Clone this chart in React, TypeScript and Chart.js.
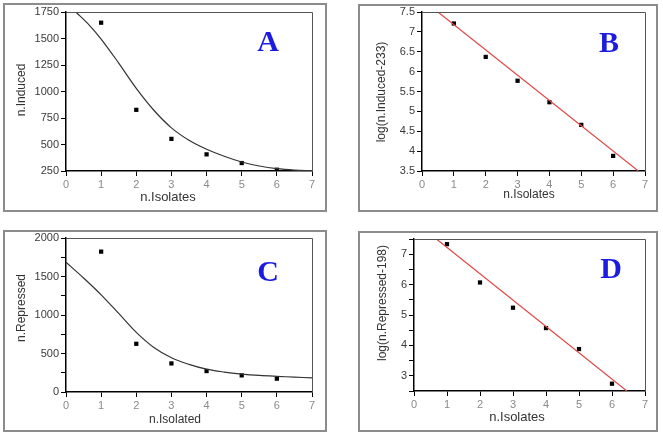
import React, { useEffect, useRef } from "react";
import { Chart, registerables } from "chart.js";

Chart.register(...registerables);

const PAGE_W = 663;
const PAGE_H = 437;
const SANS = '"Liberation Sans", Arial, sans-serif';

// ---------- data ----------
const isolates = [1, 2, 3, 4, 5, 6];
const xTicks = [0, 1, 2, 3, 4, 5, 6, 7];

// Panel A
const inducedCounts = [1649, 827, 553, 407, 325, 262];
const inducedFitX = [0.28, 0.66, 1, 1.5, 2, 2.5, 3, 3.5, 4, 4.5, 5, 5.5, 6, 6.5, 7];
const inducedFitY = [1750, 1627, 1495, 1268, 1030, 823, 657, 540, 455, 389, 335, 297, 272, 259, 253];

// Panel B
const logInduced = [7.21, 6.37, 5.77, 5.23, 4.66, 3.88];
const logInducedLineX = [0.5, 6.79];
const logInducedLineY = [7.5, 3.5];

// Panel C
const repressedCounts = [1823, 626, 371, 272, 216, 173];
const repressedFitX = [0, 0.5, 1, 1.5, 2, 2.5, 3, 3.5, 4, 4.5, 5, 5.5, 6, 6.5, 7];
const repressedFitY = [1685, 1480, 1262, 1020, 774, 578, 445, 359, 296, 259, 233, 215, 203, 193, 183];

// Panel D
const logRepressed = [7.33, 6.07, 5.24, 4.57, 3.88, 2.74];
const logRepressedLineX = [0.68, 6.45];
const logRepressedLineY = [7.5, 2.5];

// ---------- helpers ----------
const toXY = (xs: number[], ys: number[]) => xs.map((x, i) => ({ x, y: ys[i] }));

const frameAndText = {
  id: "frameAndText",
  afterDraw(chart: any, _args: any, o: any) {
    const ctx = chart.ctx;
    const ca = chart.chartArea;
    ctx.save();
    ctx.strokeStyle = "#555";
    ctx.lineWidth = 1;
    ctx.beginPath();
    ctx.moveTo(ca.left, ca.top + 0.5);
    ctx.lineTo(ca.right + 0.5, ca.top + 0.5);
    ctx.lineTo(ca.right + 0.5, ca.bottom);
    ctx.stroke();

    ctx.textAlign = "center";
    ctx.textBaseline = "middle";
    ctx.fillStyle = "#1c1ce0";
    ctx.font = 'bold 30px "Liberation Serif", "Times New Roman", serif';
    ctx.fillText(o.letter, o.letterX, o.letterY);

    ctx.fillStyle = "#333";
    ctx.font = `${o.xTitleSize}px ${SANS}`;
    ctx.fillText(o.xTitle, o.xTitleX, o.xTitleY);

    ctx.translate(o.yTitleX, o.yTitleY);
    ctx.rotate(-Math.PI / 2);
    ctx.font = `${o.yTitleSize}px ${SANS}`;
    ctx.fillText(o.yTitle, 0, 0);
    ctx.restore();
  },
};

type Spec = {
  area: [number, number, number, number]; // left, top, right, bottom
  yMin: number;
  yMax: number;
  yStep: number;
  yLabel: (v: number) => string;
  yTickSize: number;
  points: { x: number; y: number }[];
  line: { x: number; y: number }[];
  lineColor: string;
  lineTension: number;
  text: any;
};

function makeConfig(s: Spec): any {
  const Y_W = 40;
  const X_H = 30;
  const [L, T, R, B] = s.area;
  return {
    type: "scatter",
    data: {
      datasets: [
        {
          data: s.line,
          showLine: true,
          borderColor: s.lineColor,
          borderWidth: 1.2,
          pointRadius: 0,
          tension: s.lineTension,
          fill: false,
        },
        {
          data: s.points,
          showLine: false,
          pointStyle: "rect",
          pointRadius: 3,
          pointBorderWidth: 0,
          pointBackgroundColor: "#000",
          backgroundColor: "#000",
        },
      ],
    },
    options: {
      animation: false,
      responsive: false,
      devicePixelRatio: 1,
      events: [],
      layout: {
        padding: { left: L - Y_W, top: T, right: PAGE_W - R, bottom: PAGE_H - B - X_H },
      },
      plugins: {
        legend: { display: false },
        tooltip: { enabled: false },
        frameAndText: s.text,
      },
      scales: {
        x: {
          type: "linear",
          min: 0,
          max: 7,
          afterBuildTicks: (sc: any) => {
            sc.ticks = xTicks.map((v) => ({ value: v }));
          },
          afterFit: (sc: any) => {
            sc.height = X_H;
          },
          ticks: {
            color: "#8a8a8a",
            font: { size: 11, family: SANS },
            padding: 2,
            autoSkip: false,
            maxRotation: 0,
            callback: (v: any) => String(v),
          },
          grid: { display: true, drawOnChartArea: false, drawTicks: true, tickLength: 5, tickColor: "#000", color: "#000" },
          border: { display: true, color: "#000", width: 1.5 },
        },
        y: {
          type: "linear",
          min: s.yMin,
          max: s.yMax,
          afterFit: (sc: any) => {
            sc.width = Y_W;
          },
          ticks: {
            stepSize: s.yStep,
            color: "#3a3a3a",
            font: { size: s.yTickSize, family: SANS },
            padding: 2,
            autoSkip: false,
            callback: (v: any) => s.yLabel(Number(v)),
          },
          grid: { display: true, drawOnChartArea: false, drawTicks: true, tickLength: 5, tickColor: "#000", color: "#000" },
          border: { display: true, color: "#000", width: 1.5 },
        },
      },
    },
    plugins: [frameAndText],
  };
}

const specs: Spec[] = [
  {
    area: [66, 12, 312, 171],
    yMin: 250,
    yMax: 1750,
    yStep: 250,
    yLabel: (v) => String(v),
    yTickSize: 11,
    points: toXY(isolates, inducedCounts),
    line: toXY(inducedFitX, inducedFitY),
    lineColor: "#333",
    lineTension: 0.35,
    text: {
      letter: "A", letterX: 268, letterY: 43,
      xTitle: "n.Isolates", xTitleX: 168, xTitleY: 197, xTitleSize: 13,
      yTitle: "n.Induced", yTitleX: 22, yTitleY: 90, yTitleSize: 12,
    },
  },
  {
    area: [422, 12, 645, 171],
    yMin: 3.5,
    yMax: 7.5,
    yStep: 0.5,
    yLabel: (v) => String(Math.round(v * 10) / 10),
    yTickSize: 11,
    points: toXY(isolates, logInduced),
    line: toXY(logInducedLineX, logInducedLineY),
    lineColor: "#e04848",
    lineTension: 0,
    text: {
      letter: "B", letterX: 609, letterY: 44,
      xTitle: "n.Isolates", xTitleX: 529, xTitleY: 195, xTitleSize: 12,
      yTitle: "log(n.Induced-233)", yTitleX: 382, yTitleY: 92, yTitleSize: 12,
    },
  },
  {
    area: [66, 238, 312, 392],
    yMin: 0,
    yMax: 2000,
    yStep: 250,
    yLabel: (v) => (v % 500 === 0 ? String(v) : ""),
    yTickSize: 11,
    points: toXY(isolates, repressedCounts),
    line: toXY(repressedFitX, repressedFitY),
    lineColor: "#333",
    lineTension: 0.35,
    text: {
      letter: "C", letterX: 268, letterY: 273,
      xTitle: "n.Isolated", xTitleX: 175, xTitleY: 420, xTitleSize: 12,
      yTitle: "n.Repressed", yTitleX: 22, yTitleY: 308, yTitleSize: 12,
    },
  },
  {
    area: [414, 239, 645, 391],
    yMin: 2.5,
    yMax: 7.5,
    yStep: 0.5,
    yLabel: (v) => (Math.abs(v - Math.round(v)) < 1e-6 ? String(Math.round(v)) : ""),
    yTickSize: 11,
    points: toXY(isolates, logRepressed),
    line: toXY(logRepressedLineX, logRepressedLineY),
    lineColor: "#e04848",
    lineTension: 0,
    text: {
      letter: "D", letterX: 611, letterY: 270,
      xTitle: "n.Isolates", xTitleX: 517, xTitleY: 417, xTitleSize: 13,
      yTitle: "log(n.Repressed-198)", yTitleX: 383, yTitleY: 303, yTitleSize: 12,
    },
  },
];

const boxes = [
  { left: 3, top: 3, width: 324, height: 209 },
  { left: 358, top: 4, width: 300, height: 208 },
  { left: 3, top: 230, width: 324, height: 202 },
  { left: 358, top: 231, width: 300, height: 201 },
];

function Panel({ spec }: { spec: Spec }) {
  const ref = useRef<HTMLCanvasElement>(null);
  useEffect(() => {
    const chart = new Chart(ref.current as HTMLCanvasElement, makeConfig(spec));
    return () => chart.destroy();
  }, [spec]);
  return (
    <canvas
      ref={ref}
      width={PAGE_W}
      height={PAGE_H}
      style={{ position: "absolute", left: 0, top: 0, width: PAGE_W, height: PAGE_H }}
    />
  );
}

export default function App() {
  return (
    <div
      style={{
        position: "fixed",
        left: 0,
        top: 0,
        width: PAGE_W,
        height: PAGE_H,
        background: "#fff",
        overflow: "hidden",
      }}
    >
      {boxes.map((b, i) => (
        <div
          key={"box" + i}
          style={{
            position: "absolute",
            left: b.left,
            top: b.top,
            width: b.width,
            height: b.height,
            border: "2px solid #8c8c8c",
            boxSizing: "border-box",
          }}
        />
      ))}
      {specs.map((s, i) => (
        <Panel key={i} spec={s} />
      ))}
    </div>
  );
}
